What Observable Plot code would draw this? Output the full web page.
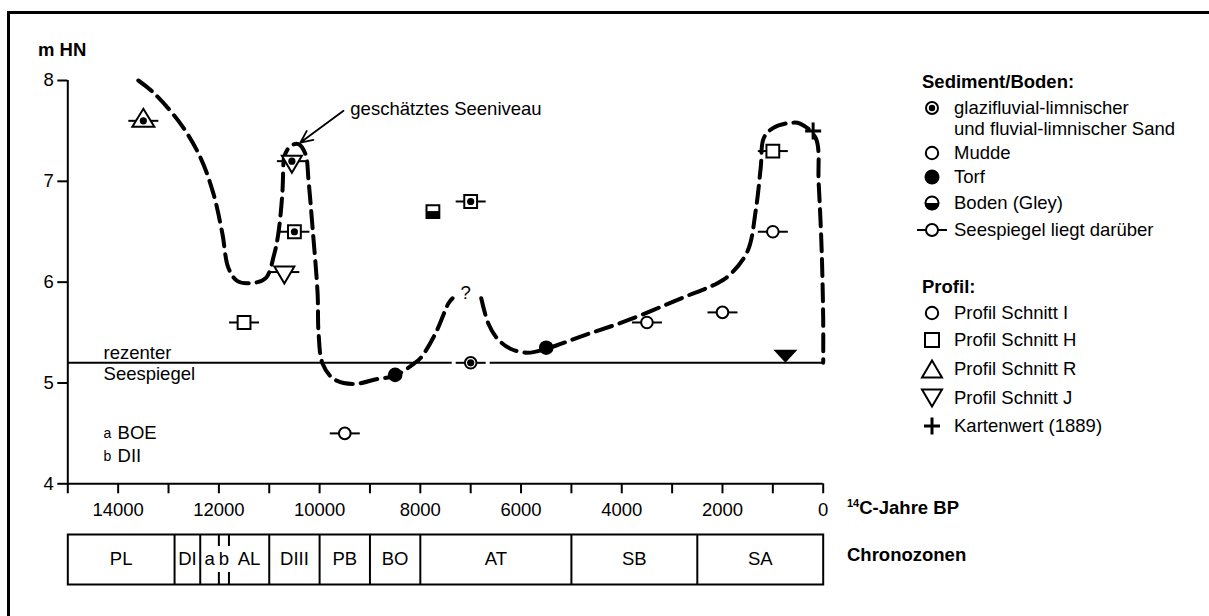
<!DOCTYPE html>
<html><head><meta charset="utf-8">
<script src="https://cdn.jsdelivr.net/npm/d3@7"></script>
<script src="https://cdn.jsdelivr.net/npm/@observablehq/plot@0.6"></script>
<style>
body{margin:0;background:#fff;width:1209px;height:616px;overflow:hidden;position:relative;font-family:"Liberation Sans",Arial,Helvetica,sans-serif;color:#000}
.abs{position:absolute;white-space:nowrap;line-height:1;font-size:18.5px}
.b{font-weight:bold}
#frame{position:absolute;left:7px;top:11px;width:1400px;height:800px;border-top:3px solid #000;border-left:3px solid #000}
svg{display:block}
</style></head><body>
<div id="frame"></div>
<div id="main" style="position:absolute;left:0;top:0"></div>
<div id="zones" style="position:absolute;left:0;top:520px"></div>
<div id="legend"></div>
<script>
// ---------- data ----------
const yTicks = [4, 5, 6, 7, 8];
const xTicks = d3.range(0, 15001, 1000);
const xLabelTicks = [14000, 12000, 10000, 8000, 6000, 4000, 2000, 0];

// dated samples (14C years BP, m HN)
const sampleAge      = [13500, 10550, 10500, 10700, 11500, 9500, 8500, 7750, 7000, 7000, 5500, 3500, 2000, 1000, 1000, 200];
const sampleLevel    = [7.6,   7.2,   6.5,   6.1,   5.6,   4.5,  5.08, 6.7,  6.8,  5.2,  5.35, 5.6,  5.7,  6.5,  7.3,  7.5];
const sampleProfile  = ["R",   "J",   "H",   "J",   "H",   "I",  "I",  "H",  "H",  "I",  "I",  "I",  "I",  "I",  "H",  "K"];
const sampleSediment = ["sand","sand","sand","none","none","mudde","torf","boden","sand","sand","torf","mudde","mudde","mudde","none","none"];
const sampleAbove    = [true,  true,  true,  true,  true,  true, false, false, true, true, false, true, true, true, true, false];

// estimated lake level curve (two parts, broken at "?")
const curveAge   = [13600,13300,12760,12370,12110,11930,11810,11630,11370,11070,10900,10820,10740,10715,10700,10580,10420,10280,10220,10140,10040,10020,9940,9720,9330,8850,8510,8130,7990,7700,7440,7360,
                    6790,6650,6470,6210,5870,5490,4760,3890,2770,2100,1840,1500,1340,1240,1180,990,650,450,150,90,30,0,0];
const curveLevel = [8.0,7.88,7.57,7.24,6.88,6.48,6.14,6.01,5.99,6.04,6.28,6.48,6.88,7.2,7.25,7.35,7.37,7.27,7.01,6.54,5.89,5.49,5.19,5.04,4.99,5.04,5.07,5.19,5.25,5.49,5.79,5.84,
                    5.84,5.59,5.44,5.34,5.30,5.34,5.47,5.62,5.85,5.99,6.08,6.31,6.71,7.14,7.43,7.53,7.58,7.57,7.43,6.98,6.31,5.62,5.2];
const curvePart  = [0,0,0,0,0,0,0,0,0,0,0,0,0,0,0,0,0,0,0,0,0,0,0,0,0,0,0,0,0,0,0,0,
                    1,1,1,1,1,1,1,1,1,1,1,1,1,1,1,1,1,1,1,1,1,1,1];

const recentLevel = 5.2;
const recentMarkAge = 750;

const questionMark = [{x: 7100, y: 5.89, t: "?"}];
const seeniveauLabel = [{x: 9390, y: 7.72, t: "geschätztes Seeniveau"}];
const seeniveauArrow = [{x1: 9525, y1: 7.70, x2: 10380, y2: 7.385}];
const recentLabel = [{x: 14290, y: 5.30, t: "rezenter"}, {x: 14290, y: 5.09, t: "Seespiegel"}];
const subzoneKey = [{x: 14290, y: 4.50, k: "a", t: "BOE"}, {x: 14290, y: 4.27, k: "b", t: "DII"}];

// chronozones
const zoneName    = ["PL","DI","a","b","AL","DIII","PB","BO","AT","SB","SA"];
const zoneOlder   = [15000,12880,12370,12000,11800,11000,10000,9000,8000,5000,2500];
const zoneYounger = [12880,12370,12000,11800,11000,10000,9000,8000,5000,2500,0];
const zoneSolidBoundaries = [12880,12370,11000,10000,9000,8000,5000,2500];
const zoneDashedBoundaries = [12000,11800];

// ---------- build ----------
const samples = sampleAge.map((x,i)=>({x, y: sampleLevel[i], p: sampleProfile[i], s: sampleSediment[i], above: sampleAbove[i]}));
const curve = curveAge.map((x,i)=>({x, y: curveLevel[i], part: curvePart[i]}));
const zones = zoneName.map((n,i)=>({n, a: zoneOlder[i], b: zoneYounger[i]}));

const circ = r => ({draw(c){ c.moveTo(r,0); c.arc(0,0,r,0,2*Math.PI); c.closePath(); }});
const sym = {
  whisker: {draw(c){ c.moveTo(-15,0); c.lineTo(15,0); }},
  halo:    {draw(c){ c.moveTo(-19,0); c.lineTo(19,0); }},
  square:  {draw(c){ c.rect(-6.4,-6.4,12.8,12.8); }},
  lowerHalf: {draw(c){ c.rect(-6.4,-0.5,12.8,6.9); }},
  circle:  circ(5.8),
  torf:    circ(7.3),
  sand:    circ(3.6),
  triUp:   {draw(c){ c.moveTo(0,-12); c.lineTo(11,6); c.lineTo(-11,6); c.closePath(); }},
  triDown: {draw(c){ c.moveTo(0,11.5); c.lineTo(10,-5.5); c.lineTo(-10,-5.5); c.closePath(); }},
  plus:    {draw(c){ c.moveTo(-8,0); c.lineTo(8,0); c.moveTo(0,-8.5); c.lineTo(0,8.5); }},
  level:   {draw(c){ c.moveTo(0,0); c.lineTo(12,-13); c.lineTo(-12,-13); c.closePath(); }}
};
const F = '"Liberation Sans", Arial, Helvetica, sans-serif';

const main = Plot.plot({
  width: 1209, height: 530,
  marginLeft: 67.3, marginRight: 386.3, marginTop: 80, marginBottom: 46.7,
  x: {domain: [15000, 0]},
  y: {domain: [4, 8]},
  style: {fontFamily: F, fontSize: "18.5px", color: "#000", background: "transparent", overflow: "visible"},
  marks: [
    Plot.ruleY([recentLevel], {x1: 15000, x2: 0, stroke: "#000", strokeWidth: 2}),
    Plot.line(curve, {x: "x", y: "y", z: "part", curve: "catmull-rom", stroke: "#000", strokeWidth: 4, strokeDasharray: "17,8"}),
    Plot.dot(samples.filter(d => d.above && d.y === recentLevel), {x: "x", y: "y", r: 5, symbol: sym.halo, stroke: "#fff", strokeWidth: 7}),
    Plot.dot(samples.filter(d => d.above), {x: "x", y: "y", r: 5, symbol: sym.whisker, stroke: "#000", strokeWidth: 2}),
    Plot.dot(samples.filter(d => d.p === "I" && d.s !== "torf"), {x: "x", y: "y", r: 5, symbol: sym.circle, fill: "#fff", stroke: "#000", strokeWidth: 2}),
    Plot.dot(samples.filter(d => d.p === "I" && d.s === "torf"), {x: "x", y: "y", r: 5, symbol: sym.torf, fill: "#000"}),
    Plot.dot(samples.filter(d => d.p === "H"), {x: "x", y: "y", r: 5, symbol: sym.square, fill: "#fff", stroke: "#000", strokeWidth: 2}),
    Plot.dot(samples.filter(d => d.p === "R"), {x: "x", y: "y", r: 5, symbol: sym.triUp, fill: "#fff", stroke: "#000", strokeWidth: 2}),
    Plot.dot(samples.filter(d => d.p === "J"), {x: "x", y: "y", r: 5, symbol: sym.triDown, fill: "#fff", stroke: "#000", strokeWidth: 2}),
    Plot.dot(samples.filter(d => d.p === "K"), {x: "x", y: "y", r: 5, symbol: sym.plus, stroke: "#000", strokeWidth: 3}),
    Plot.dot(samples.filter(d => d.s === "sand"), {x: "x", y: "y", r: 5, symbol: sym.sand, fill: "#000"}),
    Plot.dot(samples.filter(d => d.s === "boden"), {x: "x", y: "y", r: 5, symbol: sym.lowerHalf, fill: "#000"}),
    Plot.dot([{x: recentMarkAge, y: recentLevel}], {x: "x", y: "y", r: 5, symbol: sym.level, fill: "#000"}),
    Plot.arrow(seeniveauArrow, {x1: "x1", y1: "y1", x2: "x2", y2: "y2", stroke: "#000", strokeWidth: 1.8, headLength: 11, headAngle: 50}),
    Plot.text(seeniveauLabel, {x: "x", y: "y", text: "t", textAnchor: "start"}),
    Plot.text(questionMark, {x: "x", y: "y", text: "t"}),
    Plot.text(recentLabel, {x: "x", y: "y", text: "t", textAnchor: "start"}),
    Plot.text(subzoneKey, {x: "x", y: "y", text: "k", textAnchor: "start", fontSize: 14}),
    Plot.text(subzoneKey, {x: "x", y: "y", text: "t", textAnchor: "start", dx: 14}),
    Plot.axisY({ticks: yTicks, tickSize: 10, tickPadding: 4, strokeWidth: 2, label: null, tickFormat: d => String(d)}),
    Plot.axisX({ticks: xTicks, tickSize: 10, tickPadding: 9, strokeWidth: 2, label: null,
      tickFormat: d => xLabelTicks.includes(d) ? String(d) : ""}),
    Plot.ruleX([15000], {y1: 4, y2: 8, stroke: "#000", strokeWidth: 2}),
    Plot.ruleY([4], {x1: 15000, x2: 0, stroke: "#000", strokeWidth: 2})
  ]
});
document.getElementById("main").appendChild(main);

const zonePlot = Plot.plot({
  width: 1209, height: 70,
  marginLeft: 67.3, marginRight: 386.3, marginTop: 14, marginBottom: 6,
  x: {domain: [15000, 0], axis: null},
  style: {fontFamily: F, fontSize: "18.5px", color: "#000", background: "transparent", overflow: "visible"},
  marks: [
    Plot.frame({stroke: "#000", strokeWidth: 2}),
    Plot.ruleX(zoneSolidBoundaries, {stroke: "#000", strokeWidth: 2}),
    Plot.ruleX(zoneDashedBoundaries, {stroke: "#000", strokeWidth: 2, strokeDasharray: "12,26"}),
    Plot.text(zones, {x: d => (d.a + d.b) / 2, text: "n"})
  ]
});
document.getElementById("zones").appendChild(zonePlot);

// ---------- legend & free text ----------
const sedimentItems = [
  {icon: "sand", lines: ["glazifluvial-limnischer", "und fluvial-limnischer Sand"], cy: 108},
  {icon: "mudde", lines: ["Mudde"], cy: 153},
  {icon: "torf", lines: ["Torf"], cy: 177},
  {icon: "boden", lines: ["Boden (Gley)"], cy: 203},
  {icon: "whisker", lines: ["Seespiegel liegt darüber"], cy: 230}
];
const profileItems = [
  {icon: "circle", lines: ["Profil Schnitt I"], cy: 313},
  {icon: "square", lines: ["Profil Schnitt H"], cy: 340},
  {icon: "up", lines: ["Profil Schnitt R"], cy: 369},
  {icon: "down", lines: ["Profil Schnitt J"], cy: 398},
  {icon: "plus", lines: ["Kartenwert (1889)"], cy: 426}
];
function iconSvg(t){
  const s = 'stroke="#000" stroke-width="2"';
  let g = "";
  if (t === "sand") g = `<circle cx="16" cy="12" r="6" fill="#fff" ${s}/><circle cx="16" cy="12" r="3.2" fill="#000"/>`;
  if (t === "mudde" || t === "circle") g = `<circle cx="16" cy="12" r="6.2" fill="#fff" ${s}/>`;
  if (t === "torf") g = `<circle cx="16" cy="12" r="7.5" fill="#000"/>`;
  if (t === "boden") g = `<path d="M8.7,12 A7.3,7.3 0 0 0 23.3,12 Z" fill="#000"/><circle cx="16" cy="12" r="6.5" fill="none" ${s}/>`;
  if (t === "whisker") g = `<line x1="1" x2="31" y1="12" y2="12" ${s}/><circle cx="16" cy="12" r="6" fill="#fff" ${s}/>`;
  if (t === "square") g = `<rect x="9" y="5" width="14" height="14" fill="#fff" ${s}/>`;
  if (t === "up") g = `<path d="M16,3.5 L26,20.5 L6,20.5 Z" fill="#fff" ${s}/>`;
  if (t === "down") g = `<path d="M16,20.5 L26,3.5 L6,3.5 Z" fill="#fff" ${s}/>`;
  if (t === "plus") g = `<path d="M8,12 H24 M16,3.5 V20.5" stroke="#000" stroke-width="3" fill="none"/>`;
  return `<svg width="32" height="24" style="position:absolute;left:916px;top:0">${g}</svg>`;
}
let html = "";
const txt = (left, cy, content, cls="") => `<div class="abs ${cls}" style="left:${left}px;top:${cy-9}px">${content}</div>`;
html += txt(38, 50, "m HN", "b");
html += txt(922, 82, "Sediment/Boden:", "b");
html += txt(922, 287, "Profil:", "b");
for (const it of [...sedimentItems, ...profileItems]) {
  html += `<div style="position:absolute;left:0;top:${it.cy-12}px">${iconSvg(it.icon)}</div>`;
  it.lines.forEach((l, j) => { html += txt(954, it.cy + j*21, l); });
}
html += `<div class="abs b" style="left:847px;top:499px"><span style="font-size:11px;position:relative;top:-7px">14</span>C-Jahre BP</div>`;
html += txt(847, 555, "Chronozonen", "b");
document.getElementById("legend").innerHTML = html;
</script>
</body></html>
